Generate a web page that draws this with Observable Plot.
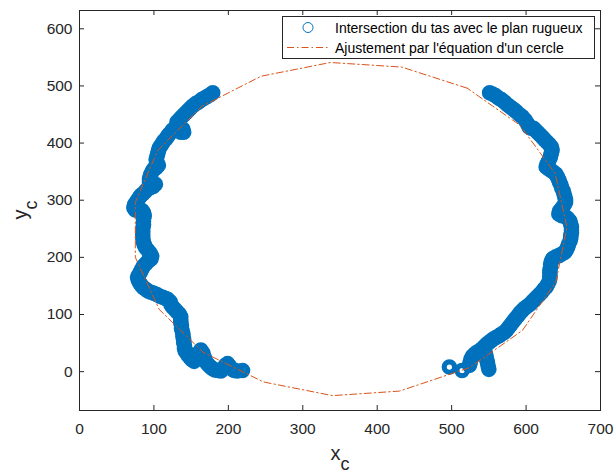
<!DOCTYPE html>
<html><head><meta charset="utf-8">
<script src="https://cdn.jsdelivr.net/npm/d3@7"></script>
<script src="https://cdn.jsdelivr.net/npm/@observablehq/plot@0.6"></script>
<style>body{margin:0;background:#fff} #chart{width:614px;height:474px}</style>
</head><body><div id="chart"></div>
<script>
const xTicks = [0, 100, 200, 300, 400, 500, 600, 700];
const yTicks = [0, 100, 200, 300, 400, 500, 600];
const legendLabels = ["Intersection du tas avec le plan rugueux", "Ajustement par l'équation d'un cercle"];

// Left arc of the intersection (x_c, y_c)
const leftX = [179,176,172,168,164,160,156,152,149,146,143,140,137,134,131,135,139,140,136,132,128,125,123,120,118,116,113,111,109,107,106,105,104,103,104,106,103,100,98,96,95,94,94,98,102,99,95,91,88,85,82,80,78,76,74,73,75,79,84,86,87,86,86,86,85,85,85,85,86,87,89,92,95,97,96,92,89,86,84,82,80,78,79,81,83,86,89,92,96,100,104,108,112,116,119,122,123,125,128,131,134,136,136,136,137,137,138,139,139,140,140,141,141,142,143,145,148,151,154,157,160,163,166,168,170,173,176,179,182,186,190,193,196,199,202,205,208,212,219];
const leftY = [488,485,482,479,476,472,469,465,461,457,453,449,445,441,437,430,424,419,419,424,426,423,419,415,411,407,403,399,395,391,386,381,376,371,366,361,357,355,351,346,342,337,332,330,328,324,322,319,315,311,308,304,300,296,292,287,283,282,282,278,273,268,263,257,251,245,239,233,227,222,217,212,207,202,197,193,189,185,180,175,170,165,160,155,151,147,144,141,139,137,135,132,130,128,126,122,117,113,109,105,101,96,91,86,81,76,71,66,61,56,51,46,41,36,36,30,25,21,18,24,32,38,32,24,17,12,8,5,3,2,1,5,11,14,9,4,2,1,2];

// Right arc of the intersection (x_c, y_c)
const rightX = [551,555,559,563,567,571,575,579,583,587,591,595,599,602,604,607,610,613,616,619,622,625,628,631,634,635,634,633,632,630,628,627,631,636,640,642,644,645,647,648,650,651,652,653,653,651,648,645,644,648,653,656,659,660,661,661,661,660,660,659,657,656,654,652,648,644,640,636,634,633,633,632,632,632,632,631,629,627,624,621,618,615,612,609,606,602,598,595,592,589,586,583,580,577,574,571,567,564,560,556,553,550,547,544,541,538,534,531,528,526,525,524,514,497,545,546,547,548,549,550];
const rightY = [488,486,483,479,476,472,467,463,459,455,450,446,440,434,428,426,426,422,418,414,410,406,402,398,393,388,383,378,373,368,363,358,354,350,346,341,336,331,326,321,316,311,306,301,296,291,286,281,276,273,271,268,263,258,253,248,243,238,233,228,223,218,213,209,206,203,201,198,193,188,183,178,173,168,163,158,153,148,144,139,135,131,127,123,119,115,111,107,103,98,93,88,83,78,73,69,66,63,60,57,54,51,48,44,40,37,34,31,27,22,16,11,2,8,34,28,22,16,10,4];

// Fitted circle (polygon vertices as drawn)
const fitX = [521,433,337,244,164,105,75,75,107,166,247,340,430,524,595,640,655,639,592,521];
const fitY = [496,533,541,517,464,387,296,200,109,34,-18,-42,-34,7,72,157,252,347,431,496];

const W = 614, H = 474, mL = 79, mR = 14, mT = 10, mB = 64;
const axisColor = "#262626";
const pts = leftX.map((x, i) => ({x, y: leftY[i]})).concat(rightX.map((x, i) => ({x, y: rightY[i]})));
const fit = fitX.map((x, i) => ({x, y: fitY[i]}));
const plotH = H - mT - mB, plotW = W - mL - mR, tl = 5;

const svgEl = Plot.plot({
  width: W, height: H,
  marginLeft: mL, marginRight: mR, marginTop: mT, marginBottom: mB,
  style: {fontFamily: "'Liberation Sans', Arial, sans-serif", fontSize: "15.5px", color: axisColor, background: "#fff"},
  x: {domain: [0, 700]},
  y: {domain: [-68, 632]},
  marks: [
    Plot.dot(pts, {x: "x", y: "y", r: 5.2, stroke: "#0072BD", strokeWidth: 5.2, fill: "none"}),
    Plot.line(fit, {x: "x", y: "y", stroke: "#D95319", strokeWidth: 1, strokeDasharray: "7,3,1.5,3"}),
    Plot.frame({stroke: axisColor, strokeWidth: 1}),
    Plot.tickX(xTicks, {x: d => d, stroke: axisColor, insetTop: plotH - tl}),
    Plot.tickX(xTicks, {x: d => d, stroke: axisColor, insetBottom: plotH - tl}),
    Plot.tickY(yTicks, {y: d => d, stroke: axisColor, insetRight: plotW - tl}),
    Plot.tickY(yTicks, {y: d => d, stroke: axisColor, insetLeft: plotW - tl}),
    Plot.axisX(xTicks, {anchor: "bottom", tickSize: 0, tickPadding: 12, label: null}),
    Plot.axisY(yTicks, {anchor: "left", tickSize: 0, tickPadding: 7, label: null})
  ]
});
document.getElementById("chart").appendChild(svgEl);

const svg = d3.select(svgEl);
const font = "'Liberation Sans', Arial, sans-serif";
// Legend
const lg = svg.append("g").attr("text-anchor", "start");
lg.append("rect").attr("x", 282.5).attr("y", 16.5).attr("width", 312).attr("height", 42)
  .attr("fill", "#fff").attr("stroke", axisColor).attr("stroke-width", 1);
lg.append("circle").attr("cx", 308).attr("cy", 27.5).attr("r", 5)
  .attr("fill", "none").attr("stroke", "#0072BD").attr("stroke-width", 1);
lg.append("line").attr("x1", 287).attr("x2", 328).attr("y1", 47.5).attr("y2", 47.5)
  .attr("stroke", "#D95319").attr("stroke-width", 1).attr("stroke-dasharray", "7,3,1.5,3");
legendLabels.forEach((t, i) => {
  lg.append("text").attr("x", 335).attr("y", 28 + i * 20).attr("dy", "0.35em")
    .attr("text-anchor", "start")
    .attr("font-family", font).attr("font-size", 14).attr("fill", "#000").text(t);
});
// Axis labels
const xl = svg.append("text").attr("x", 340).attr("y", 460).attr("text-anchor", "middle")
  .attr("font-family", font).attr("font-size", 20).attr("fill", axisColor).text("x");
xl.append("tspan").attr("dy", 10).attr("font-size", 18).text("c");
const yl = svg.append("text").attr("transform", "translate(27,210) rotate(-90)").attr("text-anchor", "middle")
  .attr("font-family", font).attr("font-size", 20).attr("fill", axisColor).text("y");
yl.append("tspan").attr("dy", 10).attr("font-size", 18).text("c");
</script>
</body></html>
